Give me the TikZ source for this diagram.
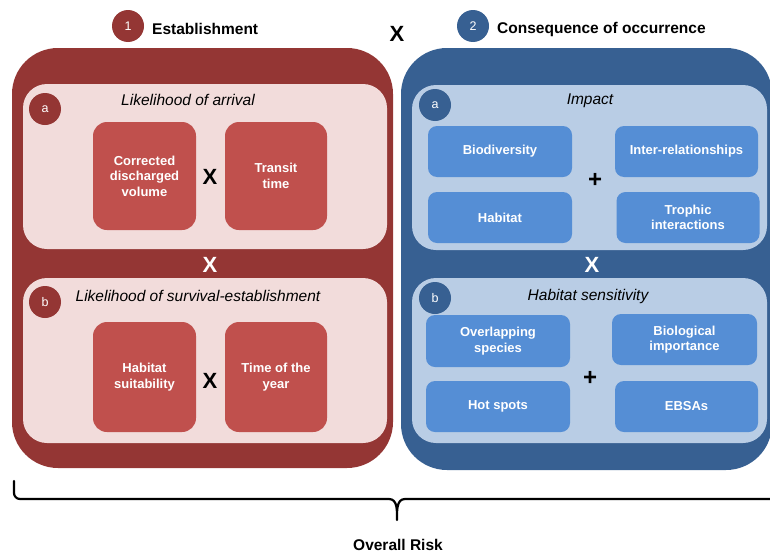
\documentclass[tikz,border=0pt]{standalone}
\usepackage{fontspec}
\setmainfont{Liberation Sans}
\definecolor{dred}{HTML}{943634}
\definecolor{lpink}{HTML}{F2DCDB}
\definecolor{mred}{HTML}{C0504D}
\definecolor{dblue}{HTML}{376092}
\definecolor{lblue}{HTML}{B9CDE5}
\definecolor{mblue}{HTML}{558ED5}
\tikzset{
  outerbox/.style={rounded corners=46pt},
  innerbox/.style={rounded corners=24pt},
  redbox/.style={fill=mred, rounded corners=14pt, text=white, font=\fontsize{13}{15.5}\selectfont\bfseries, align=center, inner sep=0pt},
  bluebox/.style={fill=mblue, rounded corners=9pt, text=white, font=\fontsize{13}{15.5}\selectfont\bfseries, align=center, inner sep=0pt},
  badge/.style={circle, minimum size=32pt, inner sep=0pt, text=white, font=\fontsize{12.5}{14}\selectfont},
  heading/.style={font=\fontsize{15.5}{18}\selectfont\bfseries, anchor=west, inner sep=0pt},
  subtitle/.style={font=\fontsize{15.5}{18}\selectfont\itshape, inner sep=0pt},
  op/.style={font=\fontsize{22}{24}\selectfont\bfseries, inner sep=0pt},
  plus/.style={font=\fontsize{24}{26}\selectfont\bfseries, inner sep=0pt},
}
\begin{document}
\begin{tikzpicture}[x=1pt,y=-1pt]
\useasboundingbox (0,0) rectangle (770,554);
\clip (0,0) rectangle (770,554);
% left group
\fill[dred, outerbox] (12,48) rectangle (393,468);
\fill[lpink, innerbox] (23,84) rectangle (387,249);
\fill[lpink, innerbox] (23,278) rectangle (387,443);
\node[badge, fill=dred] (la) at (45,109) {a};
\node[badge, fill=dred] (lb) at (45,302) {b};
\node[subtitle] (ta) at (188,100) {Likelihood of arrival};
\node[subtitle] (tb) at (198,296) {Likelihood of survival-establishment};
\node[redbox, minimum width=103pt, minimum height=108pt] (cdv) at (144.5,176) {Corrected\\discharged\\volume};
\node[redbox, minimum width=102pt, minimum height=108pt] (tt) at (276,176) {Transit\\time};
\node[op] (x1) at (210,177) {X};
\node[redbox, minimum width=103pt, minimum height=110pt] (hs) at (144.5,377) {Habitat\\suitability};
\node[redbox, minimum width=102pt, minimum height=110pt] (ty) at (276,377) {Time of the\\year};
\node[op] (x2) at (210,381) {X};
\node[op, text=white] (x3) at (210,265) {X};
% right group
\fill[dblue, outerbox] (401,48) rectangle (772,470);
\fill[lblue, innerbox] (412,85) rectangle (767,250);
\fill[lblue, innerbox] (412,278) rectangle (767,443);
\node[badge, fill=dblue] (ra) at (435,105) {a};
\node[badge, fill=dblue] (rb) at (435,298) {b};
\node[subtitle] (ti) at (590,101) {Impact};
\node[subtitle] (ths) at (588,296) {Habitat sensitivity};
\node[bluebox, minimum width=144pt, minimum height=51pt] (bio) at (500,151.5) {Biodiversity};
\node[bluebox, minimum width=143pt, minimum height=51pt] (inter) at (686.5,151.5) {Inter-relationships};
\node[bluebox, minimum width=144pt, minimum height=51pt] (hab) at (500,217.5) {Habitat};
\node[bluebox, minimum width=143pt, minimum height=51pt] (tro) at (688,217.5) {Trophic\\interactions};
\node[plus] (p1) at (595,180) {+};
\node[bluebox, minimum width=144pt, minimum height=52pt] (ovl) at (498,341) {Overlapping\\species};
\node[bluebox, minimum width=145pt, minimum height=51pt] (bim) at (684.5,339.5) {Biological\\importance};
\node[bluebox, minimum width=144pt, minimum height=51pt] (hot) at (498,406.5) {Hot spots};
\node[bluebox, minimum width=143pt, minimum height=51pt] (ebs) at (686.5,406.5) {EBSAs};
\node[plus] (p2) at (590,378) {+};
\node[op, text=white] (x4) at (592,265) {X};
% headings
\node[badge, fill=dred] (n1) at (128,26) {1};
\node[heading] (h1) at (152,29) {Establishment};
\node[badge, fill=dblue] (n2) at (473,26) {2};
\node[heading] (h2) at (497,29) {Consequence of occurrence};
\node[op] (x0) at (397,34) {X};
% brace
\coordinate (bl) at (14,481);
\coordinate (bc) at (397,520);
\coordinate (br) at (790,499);
\draw[line width=2.2pt, line cap=round, line join=round]
  (bl) -- (14,493) to[out=-90,in=180] (20,499) -- (389,499)
  to[out=0,in=90] (bc) to[out=90,in=180] (405,499) -- (br);
\node[font=\fontsize{15.5}{18}\selectfont\bfseries] (risk) at (398,545) {Overall Risk};
\end{tikzpicture}
\end{document}
